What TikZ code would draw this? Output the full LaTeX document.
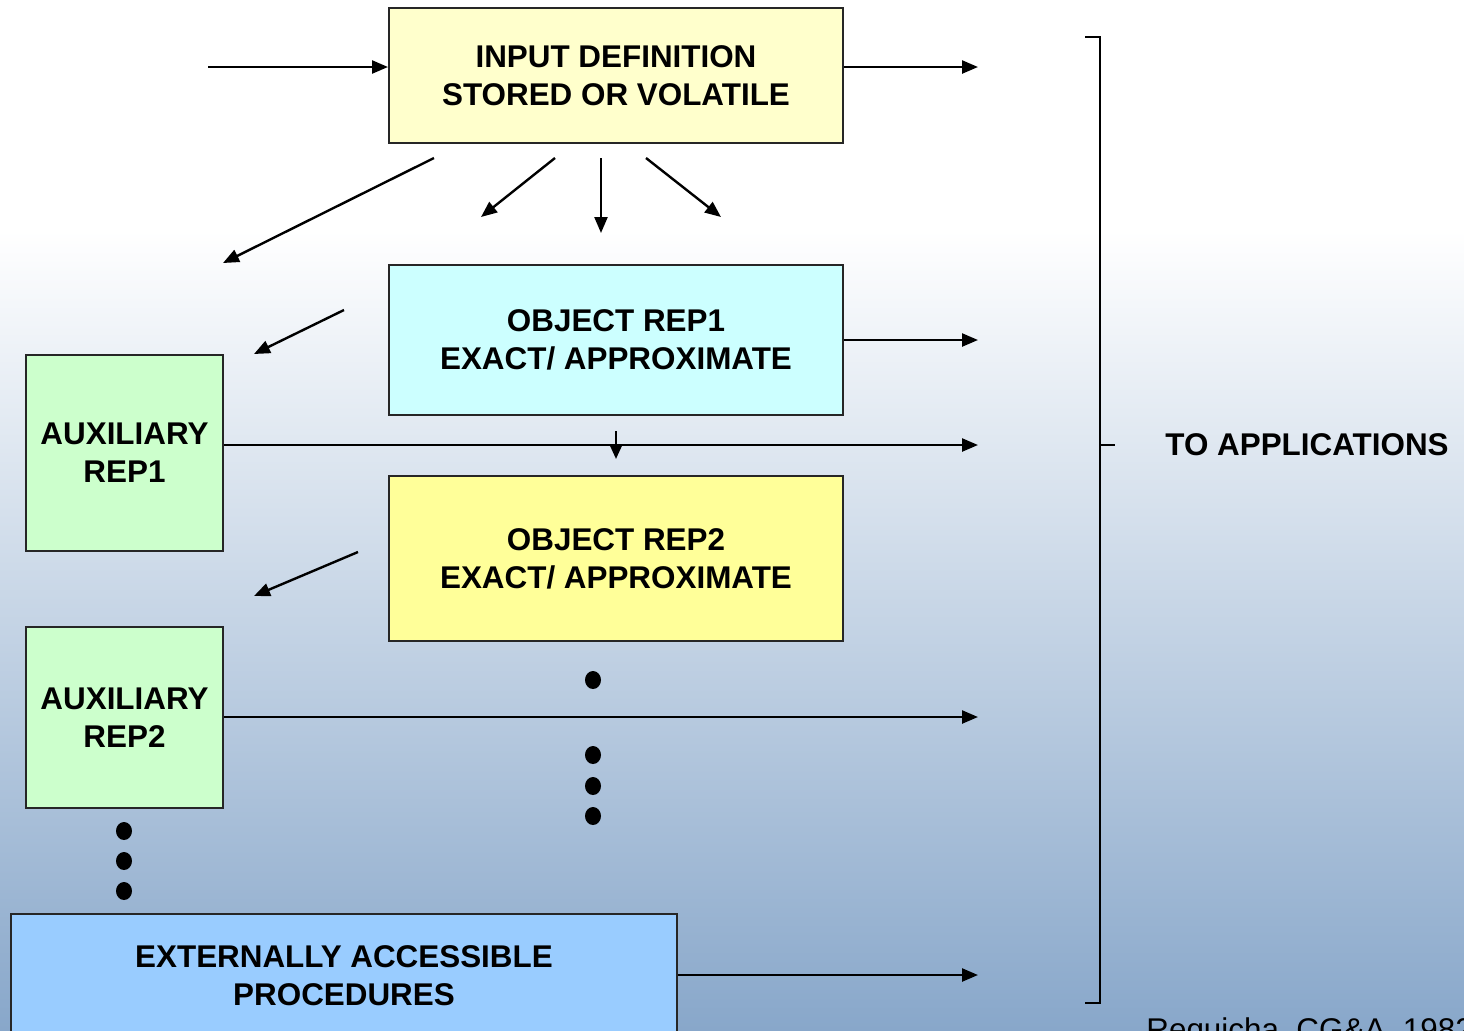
\documentclass[tikz,border=0pt]{standalone}
\usepackage{fontspec}
\setmainfont{Liberation Sans}
\usetikzlibrary{arrows.meta}
\definecolor{bgbot}{HTML}{88A7CA}
\definecolor{inyel}{HTML}{FFFFCC}
\definecolor{repcyan}{HTML}{CCFFFF}
\definecolor{repyel}{HTML}{FFFF99}
\definecolor{auxgrn}{HTML}{CCFFCC}
\definecolor{extblue}{HTML}{99CCFF}
\tikzset{
  box/.style={draw=black!85, line width=1pt, inner sep=0pt, align=center,
    font=\fontsize{15.7}{19}\selectfont\bfseries},
  arr/.style={line width=1.2pt, -{Triangle[length=8pt,width=6.5pt]}},
  dot/.style={fill=black, draw=none},
  lbl/.style={font=\fontsize{15.7}{19}\selectfont\bfseries, inner sep=0pt},
}
\begin{document}
\begin{tikzpicture}[x=0.5pt,y=-0.5pt]
\useasboundingbox (0,0) rectangle (1464,1030);
\clip (0,0) rectangle (1464,1030);
\fill[white] (0,0) rectangle (1464,231);
\shade[top color=white, bottom color=bgbot] (0,230) rectangle (1464,1030);

% boxes
\node[box, fill=inyel, minimum width=227pt, minimum height=67.5pt] (inp) at (616,75.5) {INPUT DEFINITION\\STORED OR VOLATILE};
\node[box, fill=repcyan, minimum width=227pt, minimum height=75pt] (rep1) at (616,340) {OBJECT REP1\\EXACT/ APPROXIMATE};
\node[box, fill=repyel, minimum width=227pt, minimum height=82.5pt] (rep2) at (616,558.5) {OBJECT REP2\\EXACT/ APPROXIMATE};
\node[box, fill=auxgrn, minimum width=98.5pt, minimum height=98pt] (aux1) at (124.5,453) {AUXILIARY\\REP1};
\node[box, fill=auxgrn, minimum width=98.5pt, minimum height=90.5pt] (aux2) at (124.5,717.5) {AUXILIARY\\REP2};
\node[box, fill=extblue, minimum width=333pt, minimum height=62pt] (ext) at (344,976) {EXTERNALLY ACCESSIBLE\\PROCEDURES};

% coordinates
\coordinate (src) at (208,67);
\coordinate (o1) at (978,67);
\coordinate (o2) at (978,340);
\coordinate (o3) at (978,445);
\coordinate (o4) at (978,717);
\coordinate (o5) at (978,975);
\coordinate (a1s) at (434,158); \coordinate (a1e) at (223,263);
\coordinate (a2s) at (555,158); \coordinate (a2e) at (481,217);
\coordinate (a3s) at (601,158); \coordinate (a3e) at (601,233);
\coordinate (a4s) at (646,158); \coordinate (a4e) at (721,217);
\coordinate (a5s) at (344,310); \coordinate (a5e) at (254,354);
\coordinate (a6s) at (358,552); \coordinate (a6e) at (254,596);
\coordinate (ds) at (616,431); \coordinate (de) at (616,459);

% arrows
\draw[arr] (src) -- (inp.west |- src);
\draw[arr] (inp.east |- o1) -- (o1);
\draw[arr] (rep1.east |- o2) -- (o2);
\draw[arr] (aux1.east |- o3) -- (o3);
\draw[arr] (aux2.east |- o4) -- (o4);
\draw[arr] (ext.east |- o5) -- (o5);
\draw[arr] (a1s) -- (a1e);
\draw[arr] (a2s) -- (a2e);
\draw[arr] (a3s) -- (a3e);
\draw[arr] (a4s) -- (a4e);
\draw[arr] (a5s) -- (a5e);
\draw[arr] (a6s) -- (a6e);
\draw[line width=1.2pt, -{Triangle[length=7pt,width=6pt]}] (ds) -- (de);

% dots
\foreach \n/\x/\y in {d1/593/680, d2/593/755, d3/593/786, d4/593/816, d5/124/831, d6/124/861, d7/124/891}
  \fill[dot] (\x,\y) ellipse [x radius=8, y radius=9];

% bracket
\coordinate (bt) at (1085,37);
\coordinate (bb) at (1085,1003);
\coordinate (bm) at (1115,445);
\draw[line width=1.2pt] (bt) -- (1100,37) -- (1100,1003) -- (bb);
\draw[line width=1.2pt] (1100,445) -- (bm);

\node[lbl, anchor=west] (toapp) at (1165,445) {TO APPLICATIONS};
\node[font=\fontsize{15.7}{19}\selectfont, anchor=north west, inner sep=0pt] (ref) at (1146,1017) {Requicha, CG\&A, 1982};
\end{tikzpicture}
\end{document}
